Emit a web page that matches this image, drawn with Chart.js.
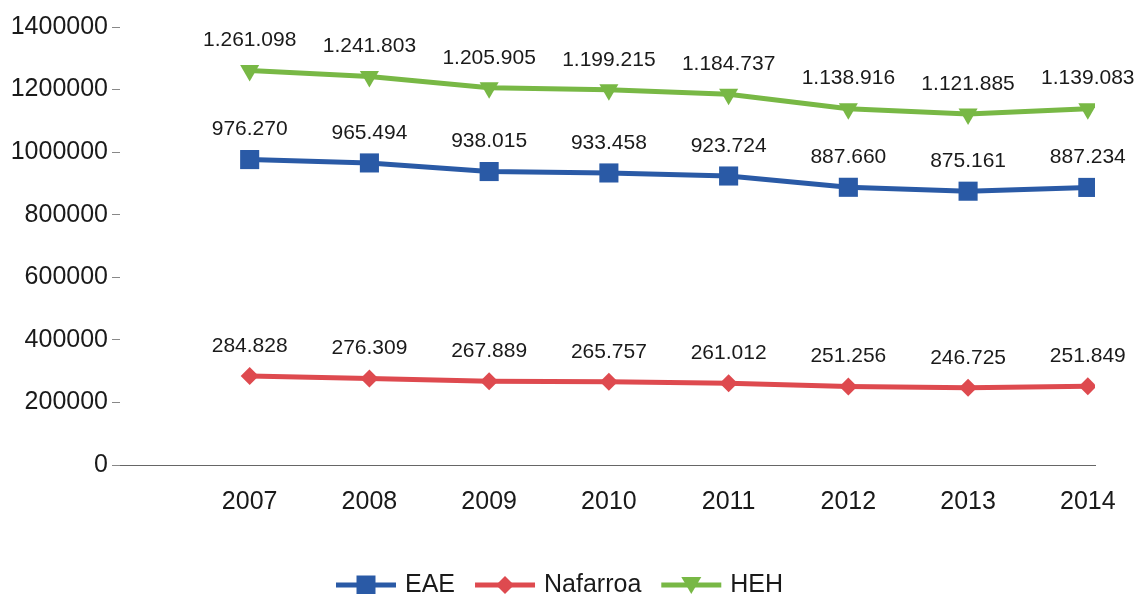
<!DOCTYPE html>
<html><head><meta charset="utf-8">
<script src="https://cdn.jsdelivr.net/npm/chart.js@4"></script>
<style>html,body{margin:0;padding:0;background:#fff;overflow:hidden}#wrap{width:1138px;height:594px}canvas{display:block}</style>
</head><body><div id="wrap"><canvas id="c" width="1138" height="594"></canvas></div>
<script>
const years = [2007, 2008, 2009, 2010, 2011, 2012, 2013, 2014];
const eae = [976270, 965494, 938015, 933458, 923724, 887660, 875161, 887234];
const nafarroa = [284828, 276309, 267889, 265757, 261012, 251256, 246725, 251849];
const heh = [1261098, 1241803, 1205905, 1199215, 1184737, 1138916, 1121885, 1139083];
const yTicks = [0, 200000, 400000, 600000, 800000, 1000000, 1200000, 1400000];
const seriesNames = ['EAE', 'Nafarroa', 'HEH'];
const colors = ['#2a5aa6', '#de4a4f', '#78b845'];
const FONT = '"Liberation Sans", Arial, sans-serif';

function fmt(v){ return String(v).replace(/\B(?=(\d{3})+(?!\d))/g, '.'); }
function pts(arr){ return arr.map((v,i)=>({x: years[i], y: v})); }

const labelPlugin = {
  id: 'valLabels',
  afterDatasetsDraw(chart){
    const ctx = chart.ctx;
    ctx.save();
    ctx.font = '21px ' + FONT;
    ctx.fillStyle = '#1a1a1a';
    ctx.textAlign = 'center';
    ctx.textBaseline = 'middle';
    chart.data.datasets.forEach((ds, di) => {
      const meta = chart.getDatasetMeta(di);
      meta.data.forEach((p, i) => {
        ctx.fillText(fmt(ds.data[i].y), p.x, p.y - 30);
      });
    });
    ctx.restore();
  }
};

function drawMarker(ctx, style, x, y, color){
  ctx.fillStyle = color;
  ctx.beginPath();
  if (style === 'rect'){ ctx.rect(x-9.5, y-9.5, 19, 19); }
  else if (style === 'rectRot'){ ctx.moveTo(x, y-9); ctx.lineTo(x+9, y); ctx.lineTo(x, y+9); ctx.lineTo(x-9, y); ctx.closePath(); }
  else { ctx.moveTo(x-10, y-8); ctx.lineTo(x+10, y-8); ctx.lineTo(x, y+9); ctx.closePath(); }
  ctx.fill();
}

const legendPlugin = {
  id: 'customLegend',
  afterDraw(chart){
    const ctx = chart.ctx;
    ctx.save();
    ctx.font = '25px ' + FONT;
    ctx.textBaseline = 'middle';
    ctx.textAlign = 'left';
    const styles = ['rect', 'rectRot', 'triangle'];
    const y = 585;
    const lineW = 60, gapText = 9, gapItem = 20;
    const widths = seriesNames.map(n => ctx.measureText(n).width);
    let x = 336;
    seriesNames.forEach((n, i) => {
      ctx.strokeStyle = colors[i];
      ctx.lineWidth = 5;
      ctx.beginPath(); ctx.moveTo(x, y); ctx.lineTo(x + lineW, y); ctx.stroke();
      drawMarker(ctx, styles[i], x + lineW/2, y, colors[i]);
      ctx.fillStyle = '#1a1a1a';
      ctx.fillText(n, x + lineW + gapText, y);
      x += lineW + gapText + widths[i] + gapItem;
    });
    ctx.restore();
  }
};

const mk = (label, arr, color, style, r, rot) => ({
  label, data: pts(arr), borderColor: color, backgroundColor: color,
  borderWidth: 5, pointStyle: style, pointRadius: r, pointHoverRadius: r,
  pointBorderWidth: 0, pointRotation: rot, tension: 0
});

new Chart(document.getElementById('c'), {
  type: 'line',
  data: {
    datasets: [
      mk(seriesNames[0], eae, colors[0], 'rect', 13.5, 0),
      mk(seriesNames[1], nafarroa, colors[1], 'rectRot', 9, 0),
      mk(seriesNames[2], heh, colors[2], 'triangle', 11, 180)
    ]
  },
  options: {
    responsive: false,
    animation: false,
    devicePixelRatio: 1,
    layout: { padding: { top: 27, right: 43, left: 0, bottom: 0 } },
    plugins: { legend: { display: false }, tooltip: { enabled: false } },
    scales: {
      x: {
        type: 'linear', min: 2005.917, max: 2014.06,
        afterBuildTicks(s){ s.ticks = years.map(v => ({ value: v })); },
        afterFit(s){ s.height = 129; },
        grid: { display: false, drawTicks: false },
        border: { display: true, color: '#666', width: 1, dash: [7, 2] },
        ticks: { padding: 22, color: '#1a1a1a', font: { size: 25, family: FONT }, callback: v => String(v), maxRotation: 0, autoSkip: false }
      },
      y: {
        min: 0, max: 1400000,
        afterBuildTicks(s){ s.ticks = yTicks.map(v => ({ value: v })); },
        afterFit(s){ s.width = 120; },
        grid: { drawOnChartArea: false, drawTicks: true, tickLength: 8, color: '#888' },
        border: { display: false },
        ticks: { padding: 4, color: '#1a1a1a', font: { size: 25, family: FONT }, callback: v => String(v) }
      }
    }
  },
  plugins: [labelPlugin, legendPlugin]
});
</script>
</body></html>
